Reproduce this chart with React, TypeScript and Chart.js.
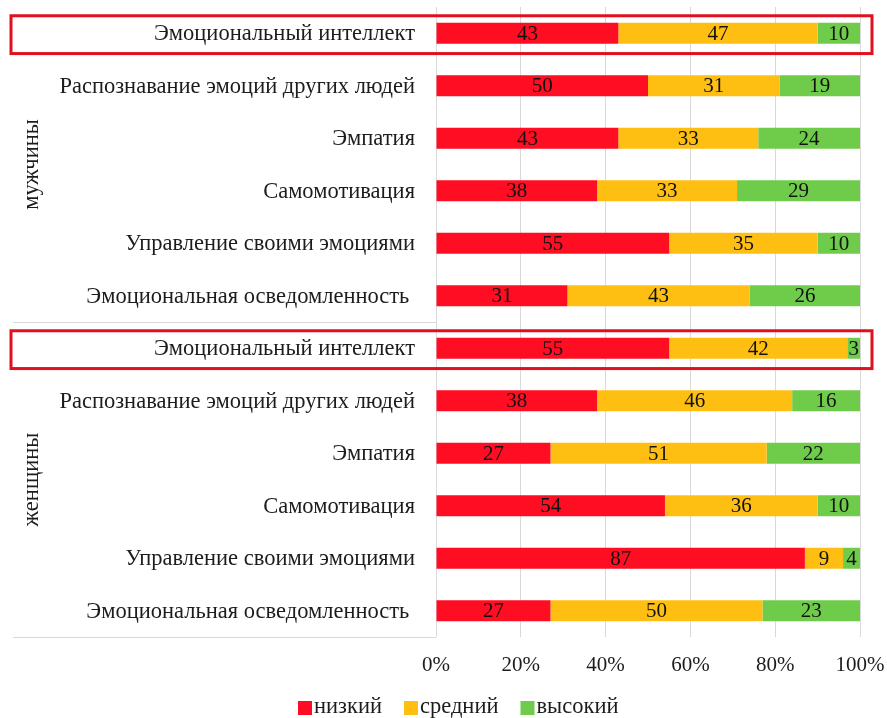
import React, { useEffect, useRef } from "react";
import { Chart, registerables } from "chart.js";

Chart.register(...registerables);

const groups = ["мужчины", "женщины"];
const categories = [
  "Эмоциональный интеллект",
  "Распознавание эмоций других людей",
  "Эмпатия",
  "Самомотивация",
  "Управление своими эмоциями",
  "Эмоциональная осведомленность ",
];
const seriesNames = ["низкий", "средний", "высокий"];
const seriesColors = ["#ff0d22", "#ffbf12", "#6fcc4b"];

// мужчины
const maleLow = [43, 50, 43, 38, 55, 31];
const maleMid = [47, 31, 33, 33, 35, 43];
const maleHigh = [10, 19, 24, 29, 10, 26];
// женщины
const femaleLow = [55, 38, 27, 54, 87, 27];
const femaleMid = [42, 46, 51, 36, 9, 50];
const femaleHigh = [3, 16, 22, 10, 4, 23];

const xTicks = [0, 20, 40, 60, 80, 100];
const highlightedRows = [0, 6];

const SERIF = "'Liberation Serif', 'Times New Roman', serif";
const TEXT = "#1c1c1c";

export default function App() {
  const ref = useRef<HTMLCanvasElement | null>(null);

  useEffect(() => {
    if (!ref.current) return;
    const labels = [...categories, ...categories];
    const data = [
      [...maleLow, ...femaleLow],
      [...maleMid, ...femaleMid],
      [...maleHigh, ...femaleHigh],
    ];

    const overlay = {
      id: "overlay",
      afterDatasetsDraw(chart: any) {
        const ctx = chart.ctx;
        ctx.save();
        ctx.font = `21px ${SERIF}`;
        ctx.fillStyle = "#111";
        ctx.textAlign = "center";
        ctx.textBaseline = "middle";
        chart.data.datasets.forEach((ds: any, di: number) => {
          const meta = chart.getDatasetMeta(di);
          meta.data.forEach((bar: any, i: number) => {
            const v = ds.data[i];
            const cx = (bar.base + bar.x) / 2;
            ctx.fillText(String(v), cx, bar.y + 1);
          });
        });
        ctx.restore();
      },
      afterDraw(chart: any) {
        const ctx = chart.ctx;
        const y = chart.scales.y;
        const area = chart.chartArea;
        const n = categories.length;
        const pitch = y.getPixelForValue(1) - y.getPixelForValue(0);
        ctx.save();
        // category labels
        ctx.font = `22.5px ${SERIF}`;
        ctx.fillStyle = TEXT;
        ctx.textAlign = "right";
        ctx.textBaseline = "middle";
        chart.data.labels.forEach((lab: string, i: number) => {
          ctx.fillText(lab, area.left - 21, y.getPixelForValue(i) + 1);
        });
        // group separators
        ctx.strokeStyle = "#d9d9d9";
        ctx.lineWidth = 1;
        [n - 0.5, 2 * n - 0.5].forEach((v) => {
          const py = Math.round(y.getPixelForValue(v)) + 0.5;
          ctx.beginPath();
          ctx.moveTo(13, py);
          ctx.lineTo(area.left, py);
          ctx.stroke();
        });
        // group labels
        ctx.font = `22.5px ${SERIF}`;
        ctx.fillStyle = TEXT;
        ctx.textAlign = "center";
        ctx.textBaseline = "middle";
        groups.forEach((g, gi) => {
          const top = y.getPixelForValue(gi * n - 0.5);
          const bot = y.getPixelForValue(gi * n + n - 0.5);
          ctx.save();
          ctx.translate(32, (top + bot) / 2);
          ctx.rotate(-Math.PI / 2);
          ctx.fillText(g, 0, 0);
          ctx.restore();
        });
        // highlight boxes
        ctx.strokeStyle = "#e0101e";
        ctx.lineWidth = 3;
        highlightedRows.forEach((r) => {
          const cy = y.getPixelForValue(r);
          ctx.strokeRect(11, cy - pitch * 0.333, 861, pitch * 0.72);
        });
        // legend
        ctx.font = `22.5px ${SERIF}`;
        ctx.textAlign = "left";
        ctx.textBaseline = "middle";
        const ly = 707;
        let lx = 298;
        seriesNames.forEach((s, i) => {
          ctx.fillStyle = seriesColors[i];
          ctx.fillRect(lx, ly - 6, 14, 14);
          ctx.fillStyle = TEXT;
          ctx.fillText(s, lx + 16, ly);
          lx += 16 + ctx.measureText(s).width + 22;
        });
        ctx.restore();
      },
    };

    const chart = new Chart(ref.current, {
      type: "bar",
      data: {
        labels,
        datasets: seriesNames.map((name, i) => ({
          label: name,
          data: data[i],
          backgroundColor: seriesColors[i],
          borderWidth: 0,
          barPercentage: 0.4,
          categoryPercentage: 1,
        })),
      },
      options: {
        indexAxis: "y",
        animation: false,
        responsive: true,
        maintainAspectRatio: false,
        layout: { padding: { top: 7, right: 27, left: 0, bottom: 0 } },
        plugins: {
          legend: { display: false },
          tooltip: { enabled: false },
        },
        scales: {
          x: {
            stacked: true,
            min: 0,
            max: 100,
            afterBuildTicks: (s: any) => {
              s.ticks = xTicks.map((v) => ({ value: v }));
            },
            ticks: {
              callback: (v: any) => v + "%",
              color: TEXT,
              font: { family: SERIF, size: 21 },
              padding: 16,
              maxRotation: 0,
            },
            grid: { color: "#d9d9d9", drawTicks: false },
            border: { display: false },
            afterFit: (s: any) => {
              s.height = 81;
              s.paddingRight = 0;
              s.paddingLeft = 0;
            },
          },
          y: {
            stacked: true,
            grid: { display: false },
            border: { display: false },
            ticks: { display: false },
            afterFit: (s: any) => {
              s.width = 436;
            },
          },
        },
      },
      plugins: [overlay],
    });
    return () => chart.destroy();
  }, []);

  return (
    <div style={{ position: "absolute", left: 0, top: 0, width: 887, height: 718 }}>
      <canvas ref={ref} />
    </div>
  );
}
